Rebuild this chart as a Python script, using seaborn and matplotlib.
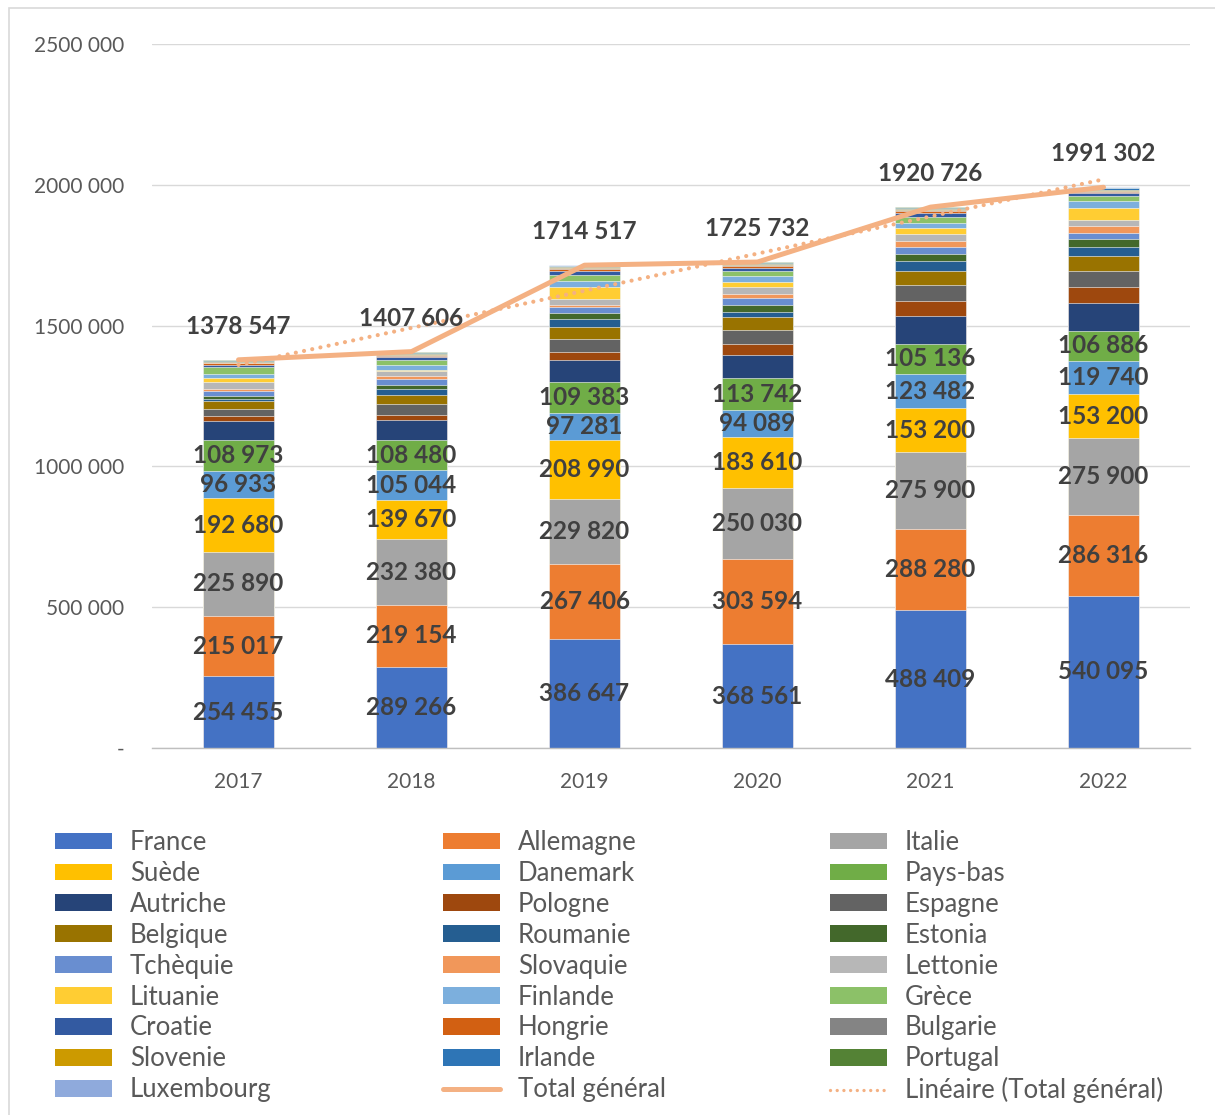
import numpy as np
import matplotlib
matplotlib.use("Agg")
import matplotlib.pyplot as plt
from matplotlib.patches import Patch, Rectangle
from matplotlib.lines import Line2D
from matplotlib.ticker import FuncFormatter
import seaborn as sns

years = ["2017", "2018", "2019", "2020", "2021", "2022"]

countries = ["France", "Allemagne", "Italie", "Suède", "Danemark", "Pays-bas",
             "Autriche", "Pologne", "Espagne", "Belgique", "Roumanie", "Estonia",
             "Tchèquie", "Slovaquie", "Lettonie", "Lituanie", "Finlande", "Grèce",
             "Croatie", "Hongrie", "Bulgarie", "Slovenie", "Irlande", "Portugal",
             "Luxembourg"]

france = [254455, 289266, 386647, 368561, 488409, 540095]
allemagne = [215017, 219154, 267406, 303594, 288280, 286316]
italie = [225890, 232380, 229820, 250030, 275900, 275900]
suede = [192680, 139670, 208990, 183610, 153200, 153200]
danemark = [96933, 105044, 97281, 94089, 123482, 119740]
pays_bas = [108973, 108480, 109383, 113742, 105136, 106886]
autriche = [67000, 70500, 77500, 82500, 98000, 97000]
pologne = [16500, 16500, 28000, 39000, 55500, 56500]
espagne = [26500, 40000, 47000, 49500, 56500, 60000]
belgique = [29500, 34000, 42500, 45000, 50500, 52000]
roumanie = [4700, 20000, 28000, 17800, 35500, 33000]
estonia = [11800, 15400, 21000, 24800, 23500, 26000]
tchequie = [19000, 20000, 21300, 24800, 24800, 23500]
slovaquie = [7100, 9500, 9500, 14000, 22300, 23500]
lettonie = [24000, 17800, 21000, 25800, 24800, 20000]
lituanie = [15400, 3600, 42500, 18800, 20000, 45000]
finlande = [14200, 17800, 21300, 18800, 18800, 22300]
grece = [23000, 20000, 21300, 21000, 20000, 18800]
croatie = [8300, 9500, 14000, 9500, 15000, 9500]
hongrie = [4500, 5000, 5500, 6000, 6500, 6500]
bulgarie = [3000, 3200, 3500, 3500, 3800, 4000]
slovenie = [2500, 2800, 3000, 3200, 3300, 3300]
irlande = [3500, 3800, 4000, 4200, 4200, 4200]
portugal = [2200, 2400, 2300, 2400, 2300, 2300]
luxembourg = [1700, 1800, 1800, 1800, 1800, 1800]

totals = [1378547, 1407606, 1714517, 1725732, 1920726, 1991302]

series = [france, allemagne, italie, suede, danemark, pays_bas, autriche, pologne,
          espagne, belgique, roumanie, estonia, tchequie, slovaquie, lettonie,
          lituanie, finlande, grece, croatie, hongrie, bulgarie, slovenie, irlande,
          portugal, luxembourg]

colors = ["#4472C4", "#ED7D31", "#A5A5A5", "#FFC000", "#5B9BD5", "#70AD47",
          "#264478", "#9E480E", "#636363", "#997300", "#255E91", "#43682B",
          "#698ED0", "#F1975A", "#B7B7B7", "#FFCD33", "#7CAFDD", "#8CC168",
          "#335AA1", "#D26012", "#848484", "#CC9A00", "#2E75B6", "#548235",
          "#8FAADC"]
line_color = "#F4B183"


def fmt(v, pos=None):
    v = int(round(v))
    if v == 0:
        return "-"
    if v >= 1000:
        return f"{v // 1000} {v % 1000:03d}"
    return str(v)


sns.set_theme(style="white")
plt.rcParams["font.family"] = ["Lato", "DejaVu Sans"]

W, H = 1215, 1115
fig = plt.figure(figsize=(W / 100, H / 100), dpi=100)
ax = fig.add_axes([152 / W, 1 - 748 / H, (1190 - 152) / W, (748 - 44) / H])

# stacked bars: draw cumulative heights from the top series down
cum = np.cumsum(np.array(series, dtype=float), axis=0)
for i in reversed(range(len(series))):
    sns.barplot(x=years, y=cum[i], color=colors[i], saturation=1, width=0.41,
                edgecolor="white", linewidth=0.4, ax=ax, zorder=2)

xpos = np.arange(len(years))
coef = np.polyfit(xpos + 1, totals, 1)
trend = np.polyval(coef, xpos + 1)

ax.plot(xpos, totals, color=line_color, lw=3.6, solid_capstyle="round", zorder=3)
ax.plot(xpos, trend, color=line_color, lw=3.0, linestyle=(0, (0.01, 2.0)),
        dash_capstyle="round", zorder=4)

# segment labels for the six largest countries
for i in range(6):
    for j in range(len(years)):
        y = cum[i][j] - series[i][j] / 2
        ax.text(j, y, fmt(series[i][j]), ha="center", va="center", fontsize=17.5,
                fontweight="bold", color="#404040", zorder=5)

for j, t in enumerate(totals):
    ax.annotate(fmt(t), (j, t), xytext=(0, 24), textcoords="offset points",
                ha="center", va="center", fontsize=17.5, fontweight="bold",
                color="#404040", zorder=5)

ax.set_xlim(-0.5, len(years) - 0.5)
ax.set_ylim(0, 2500000)
ax.set_yticks(np.arange(0, 2500001, 500000))
ax.yaxis.set_major_formatter(FuncFormatter(fmt))
ax.set_xlabel("")
ax.set_ylabel("")
ax.yaxis.grid(True, color="#D9D9D9", lw=1)
ax.xaxis.grid(False)
ax.set_axisbelow(True)
for s in ["left", "right", "top"]:
    ax.spines[s].set_visible(False)
ax.spines["bottom"].set_color("#BFBFBF")
ax.spines["bottom"].set_linewidth(1)
ax.tick_params(axis="y", length=0, labelsize=15, labelcolor="#595959", pad=20)
ax.tick_params(axis="x", length=0, labelsize=15, labelcolor="#595959", pad=17)

# legend laid out row by row over three columns
handles = [Patch(facecolor=c, edgecolor="none") for c in colors]
handles.append(Line2D([], [], color=line_color, lw=3.6, solid_capstyle="round"))
handles.append(Line2D([], [], color=line_color, lw=2.4, linestyle=(0, (0.01, 2.0)),
                      dash_capstyle="round"))
labels = countries + ["Total général", "Linéaire (Total général)"]

col_x = [55, 443, 830]
for k in range(3):
    leg = fig.legend(handles[k::3], labels[k::3], loc="upper left",
                     bbox_to_anchor=(col_x[k] / W, 1 - 830 / H), frameon=False,
                     fontsize=18.5, handlelength=2.22, handleheight=0.62,
                     handletextpad=0.7, labelspacing=0.23, borderpad=0,
                     borderaxespad=0, labelcolor="#595959")

fig.patches.append(Rectangle((9 / W, -0.01), 1.02, 1 - 8 / H + 0.01,
                             transform=fig.transFigure, fill=False,
                             edgecolor="#D9D9D9", lw=1.2))

fig.savefig("out.png", dpi=100)
